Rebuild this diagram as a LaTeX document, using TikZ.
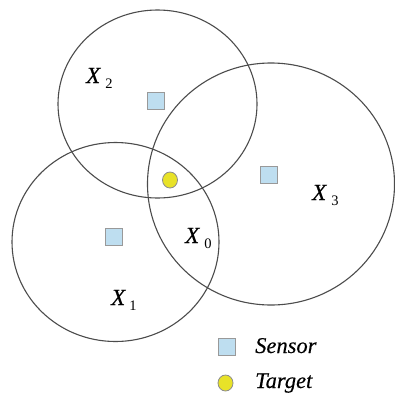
\documentclass[tikz,border=0pt]{standalone}
\usepackage{fontspec}
\setmainfont{Liberation Serif}[ItalicFont={Liberation Serif Italic},ItalicFeatures={FakeBold=0.3}]
\usetikzlibrary{shapes.geometric}
\begin{document}
\begin{tikzpicture}[x=1pt,y=-1pt,
  rangecirc/.style={draw=black!70,line width=1.1pt},
  sensor/.style={draw=black!40,fill=sensorblue,line width=0.9pt,minimum width=17pt,minimum height=17pt,inner sep=0pt},
  target/.style={draw=black!45,fill=targetyellow,line width=0.8pt,ellipse,minimum width=15pt,minimum height=16pt,inner sep=0pt},
  lbl/.style={anchor=base west,inner sep=0pt,font=\fontsize{23}{23}\selectfont\itshape},
  legendtext/.style={anchor=base west,inner sep=0pt,font=\fontsize{22.5}{22.5}\selectfont\itshape}]
\definecolor{sensorblue}{RGB}{190,222,240}
\definecolor{targetyellow}{RGB}{232,226,40}
\useasboundingbox[fill=white] (0,0) rectangle (395,394);
% sensing ranges
\draw[rangecirc] (157.5,104) ellipse [x radius=99.5,y radius=94];
\draw[rangecirc] (271,184) ellipse [x radius=123.5,y radius=121];
\draw[rangecirc] (115.5,242) ellipse [x radius=103.5,y radius=99.5];
% sensors and target
\node[sensor] (s2) at (156,101) {};
\node[sensor] (s3) at (269,174.5) {};
\node[sensor] (s1) at (114,236.5) {};
\node[target] (t) at (170,180) {};
% region labels
\node[lbl] (x2) at (86,83) {X\hspace{5pt}\raisebox{-5pt}{\fontsize{14.5}{14.5}\selectfont\upshape 2}};
\node[lbl] (x3) at (312,200) {X\hspace{5pt}\raisebox{-5pt}{\fontsize{14.5}{14.5}\selectfont\upshape 3}};
\node[lbl] (x0) at (185,243) {X\hspace{5pt}\raisebox{-5pt}{\fontsize{14.5}{14.5}\selectfont\upshape 0}};
\node[lbl] (x1) at (111,305) {X\hspace{4pt}\raisebox{-5pt}{\fontsize{14.5}{14.5}\selectfont\upshape 1}};
% legend
\node[sensor] (ls) at (227,346.5) {};
\node[target] (lt) at (225.5,383) {};
\node[legendtext] (lstext) at (255,353) {Sensor};
\node[legendtext] (lttext) at (255,388) {Target};
\end{tikzpicture}
\end{document}
